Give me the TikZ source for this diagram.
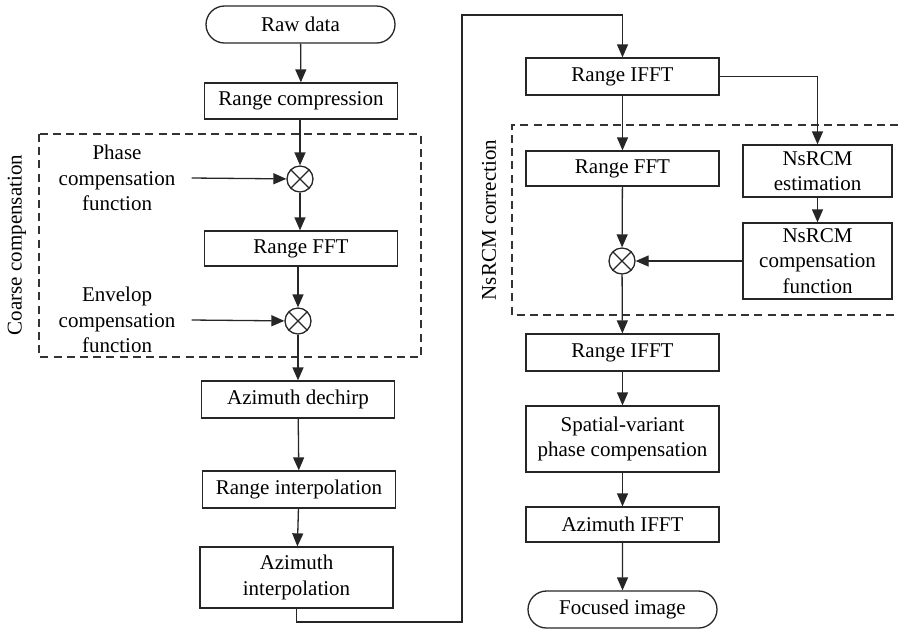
\documentclass[tikz,border=0pt]{standalone}
\usepackage{fontspec}
\setmainfont{Liberation Serif}
\usepackage{tikz}
\usetikzlibrary{positioning,arrows.meta,shapes.misc}

\begin{document}
\begin{tikzpicture}[
    x=0.5pt, y=-0.5pt,
    font=\fontsize{10.5}{12.8}\selectfont,
    stepbox/.style={rectangle, draw=black!85, line width=0.65pt,
        minimum width=96.5pt, align=center, inner sep=1pt},
    terminal/.style={rounded rectangle, draw=black!85, line width=0.65pt,
        minimum width=96.5pt, minimum height=18.5pt, align=center, inner sep=1pt},
    mult/.style={circle, draw=black!85, line width=0.65pt, minimum size=13pt, inner sep=0pt,
        path picture={\draw[line width=0.6pt] (path picture bounding box.south west) -- (path picture bounding box.north east)
            (path picture bounding box.north west) -- (path picture bounding box.south east);}},
    group/.style={draw=black!80, line width=0.6pt, dash pattern=on 4pt off 2.6pt},
    grouplabel/.style={rotate=90, anchor=center},
    funclabel/.style={align=center, inner xsep=8pt},
    arrow/.style={-{Triangle[length=6.5pt, width=5.5pt]}, line width=0.65pt, draw=black!85}
]
\useasboundingbox (0,0) rectangle (898,629);

% Coarse compensation
\draw[group] (39,134) rectangle (421,357);
\node[grouplabel] (coarse) at (17,245) {Coarse compensation};

% Left column
\node[terminal] (raw) at (300.5,24.5) {Raw data};
\node[stepbox, minimum height=18pt] (rcomp) at (301,101) {Range compression};
\node[mult] (mul1) at (300,179) {};
\node[funclabel] (phase) at (117,178) {Phase\\compensation\\function};
\node[stepbox, minimum height=17.5pt] (rfft1) at (301,248.5) {Range FFT};
\node[mult] (mul2) at (298,321) {};
\node[funclabel] (envelop) at (117,320) {Envelop\\compensation\\function};
\node[stepbox, minimum height=18.5pt] (dechirp) at (298,399.5) {Azimuth dechirp};
\node[stepbox, minimum height=18.5pt] (rinterp) at (299,489.5) {Range interpolation};
\node[stepbox, minimum height=30.5pt] (ainterp) at (296.5,577.5) {Azimuth\\interpolation};

% NsRCM correction
\draw[group] (898,125) -- (512,125) -- (512,315) -- (898,315);
\node[grouplabel] (nsrcm) at (489,220) {NsRCM correction};

% Right column
\node[stepbox, minimum height=18.5pt] (rifft1) at (622.5,76.5) {Range IFFT};
\node[stepbox, minimum height=17.5pt] (rfft2) at (622.5,168.5) {Range FFT};
\node[stepbox, minimum width=74.5pt, minimum height=26pt] (nsest) at (817.5,171) {NsRCM\\estimation};
\node[stepbox, minimum width=74.5pt, minimum height=38pt] (nscomp) at (817.5,261) {NsRCM\\compensation\\function};
\node[mult] (mul3) at (622,261) {};
\node[stepbox, minimum height=18.5pt] (rifft2) at (622.5,352.5) {Range IFFT};
\node[stepbox, minimum height=33pt] (spatial) at (622.5,439) {Spatial-variant\\phase compensation};
\node[stepbox, minimum height=17.5pt] (aifft) at (622.5,524.5) {Azimuth IFFT};
\node[terminal] (focused) at (622.5,609.5) {Focused image};

% Loop between the columns
\coordinate (loopa) at (462,622);
\coordinate (loopb) at (462,15);

% Arrows
\draw[arrow] (raw) -- (rcomp);
\draw[arrow] (rcomp.south -| mul1) -- (mul1);
\draw[arrow] (phase.east) -- (mul1);
\draw[arrow] (mul1) -- (rfft1.north -| mul1);
\draw[arrow] (rfft1.south -| mul2) -- (mul2);
\draw[arrow] (envelop.east) -- (mul2);
\draw[arrow] (mul2) -- (dechirp.north -| mul2);
\draw[arrow] (dechirp) -- (rinterp);
\draw[arrow] (rinterp) -- (ainterp);
\draw[arrow] (ainterp.south) |- (loopa) -- (loopb) -| (rifft1.north);
\draw[arrow] (rifft1) -- (rfft2);
\draw[arrow] (rifft1.east) -| (nsest.north);
\draw[arrow] (nsest) -- (nscomp);
\draw[arrow] (rfft2) -- (mul3);
\draw[arrow] (nscomp) -- (mul3);
\draw[arrow] (mul3) -- (rifft2);
\draw[arrow] (rifft2) -- (spatial);
\draw[arrow] (spatial) -- (aifft);
\draw[arrow] (aifft) -- (focused);

\end{tikzpicture}
\end{document}
